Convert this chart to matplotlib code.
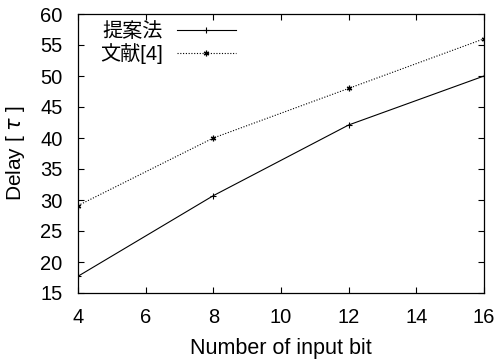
import matplotlib
matplotlib.use('Agg')
import matplotlib.pyplot as plt

plt.rcParams['font.family'] = ['Liberation Sans', 'Noto Sans CJK JP', 'DejaVu Sans']

bits = [4, 8, 12, 16]
proposed = [17.7, 30.7, 42.1, 50.0]
ref4 = [29.1, 40.0, 48.0, 56.0]
labels = ['提案法', '文献[4]']

fig = plt.figure(figsize=(4.97, 3.62), dpi=100)
ax = fig.add_axes([78 / 497, 1 - 293 / 362, 406 / 497, 279 / 362])

ax.plot(bits, proposed, color='black', lw=0.8, marker='+', ms=5, mew=0.8, label=labels[0])
ax.plot(bits, ref4, color='black', lw=0.8, ls=(0, (1, 1.5)), marker=(6, 2, 0), ms=4, mew=0.9,
        label=labels[1])

ax.set_xlim(4, 16)
ax.set_ylim(15, 60)
ax.set_xticks(range(4, 17, 2))
ax.set_yticks(range(15, 61, 5))
ax.tick_params(direction='in', top=True, right=True, labelsize=14.5, length=4, width=0.8)
ax.tick_params(axis='y', pad=11)
ax.tick_params(axis='x', pad=11)
for s in ax.spines.values():
    s.set_linewidth(0.9)

ax.set_xlabel('Number of input bit', fontsize=15.5, labelpad=8)
ax.set_ylabel(r'Delay [ $\tau$ ]', fontsize=15)
ax.yaxis.set_label_coords(-0.126, 0.5)

leg = ax.legend(loc='upper left', markerfirst=False, frameon=False, fontsize=14.5,
                handlelength=2.9, handletextpad=0.7, borderpad=0.0, labelspacing=0.1,
                borderaxespad=0.0, bbox_to_anchor=(0.055, 0.97))

fig.savefig('out.png', dpi=100)
